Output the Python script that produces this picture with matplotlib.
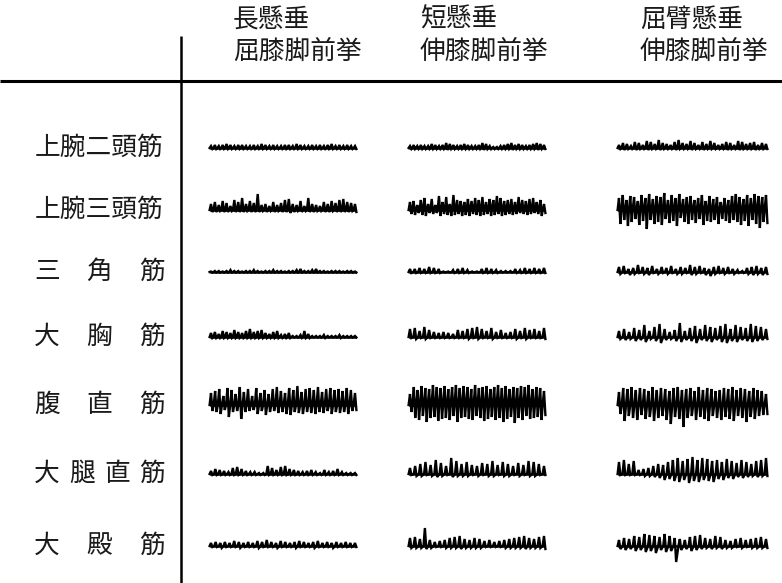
import numpy as np
import matplotlib.pyplot as plt

plt.rcParams['font.family'] = ['Noto Sans CJK JP', 'DejaVu Sans']

W, H = 782, 583

cond_top = ["長懸垂", "短懸垂", "屈臂懸垂"]
cond_bottom = ["屈膝脚前挙", "伸膝脚前挙", "伸膝脚前挙"]
muscles = ["上腕二頭筋", "上腕三頭筋", "三角筋", "大胸筋", "腹直筋", "大腿直筋", "大殿筋"]

# spike heights above (up) and below (dn) the baseline, one list per condition
biceps_up = [
    [2, 3, 2, 3, 4, 3, 2, 3, 3, 2, 2, 3, 2, 4, 3, 2, 3, 2, 2, 3, 3, 2, 4, 3, 2, 2, 3, 2, 3, 2, 3, 4, 2, 3, 2, 3, 2, 2],
    [2, 3, 2, 3, 2, 2, 4, 3, 2, 3, 5, 4, 3, 2, 3, 4, 3, 2, 2, 3, 5, 4, 2, 1, 1, 2, 3, 4, 5, 3, 4, 3, 2, 3, 4, 5, 4, 3],
    [3, 5, 4, 2, 6, 5, 3, 7, 6, 4, 8, 5, 4, 3, 6, 8, 5, 4, 7, 5, 3, 6, 4, 7, 5, 3, 4, 6, 5, 3, 7, 6, 4, 5, 6, 3, 5, 4],
]
biceps_dn = [
    [1, 1, 1, 1, 1, 1, 1, 1, 1, 1, 1, 1, 1, 1, 1, 1, 1, 1, 1, 1, 1, 1, 1, 1, 1, 1, 1, 1, 1, 1, 1, 1, 1, 1, 1, 1, 1, 1],
    [1, 1, 1, 1, 1, 1, 1, 1, 1, 1, 2, 1, 1, 1, 1, 1, 1, 1, 1, 1, 2, 1, 1, 1, 1, 1, 1, 1, 2, 1, 1, 1, 1, 1, 1, 2, 1, 1],
    [1, 2, 1, 1, 2, 1, 1, 2, 1, 1, 2, 1, 1, 1, 2, 1, 1, 1, 2, 1, 1, 2, 1, 1, 1, 1, 1, 2, 1, 1, 2, 1, 1, 1, 2, 1, 1, 1],
]
triceps_up = [
    [6, 8, 5, 9, 7, 4, 10, 8, 12, 6, 9, 7, 16, 5, 6, 4, 8, 5, 7, 10, 11, 6, 5, 9, 4, 12, 6, 5, 4, 8, 6, 9, 7, 10, 11, 8, 7, 6],
    [8, 9, 5, 10, 12, 6, 11, 5, 14, 8, 13, 6, 15, 10, 9, 8, 11, 9, 12, 10, 13, 8, 11, 10, 14, 12, 9, 10, 11, 8, 13, 10, 9, 11, 12, 8, 10, 6],
    [12, 15, 10, 14, 13, 9, 15, 12, 16, 11, 14, 13, 17, 10, 15, 12, 16, 11, 13, 14, 10, 12, 15, 9, 14, 11, 13, 8, 12, 10, 14, 16, 13, 11, 15, 12, 16, 14, 13, 15],
]
triceps_dn = [
    [2, 2, 1, 2, 2, 1, 2, 2, 2, 1, 2, 2, 2, 1, 2, 1, 2, 1, 2, 2, 3, 2, 1, 2, 1, 2, 2, 1, 1, 2, 2, 1, 2, 2, 2, 2, 1, 2],
    [4, 5, 3, 5, 6, 3, 4, 3, 6, 4, 5, 6, 5, 4, 6, 5, 6, 4, 5, 6, 5, 4, 6, 5, 4, 6, 5, 4, 5, 4, 3, 4, 5, 4, 3, 4, 6, 3],
    [14, 10, 16, 12, 9, 15, 11, 19, 10, 14, 12, 15, 9, 13, 11, 16, 8, 12, 14, 10, 13, 9, 15, 11, 12, 10, 14, 9, 11, 13, 10, 12, 15, 11, 16, 10, 14, 18, 12, 13],
]
deltoid_up = [
    [0.5, 1, 1, 0.5, 1, 2, 1, 1, 0.5, 1, 1, 2, 1, 0.5, 1, 1, 2, 1, 1, 0.5, 1, 1, 2, 3, 1, 1, 2, 3, 1, 1, 0.5, 1, 1, 1, 0.5, 1, 1, 0.5],
    [3, 3, 4, 3, 5, 4, 3, 0.5, 0.5, 2, 3, 4, 2, 0.5, 0.5, 3, 4, 3, 2, 1, 1, 1, 3, 2, 4, 3, 4, 3, 4],
    [5, 6, 3, 4, 7, 5, 4, 6, 3, 5, 4, 6, 3, 5, 4, 7, 5, 6, 4, 3, 5, 6, 4, 5, 3, 2, 1, 4, 5, 6, 4, 5],
]
deltoid_dn = [
    [0.5, 0.5, 0.5, 0.5, 0.5, 0.5, 0.5, 0.5, 0.5, 0.5, 0.5, 0.5, 0.5, 0.5, 0.5, 0.5, 0.5, 0.5, 0.5, 0.5, 0.5, 0.5, 0.5, 0.5, 0.5, 0.5, 0.5, 0.5, 0.5, 0.5, 0.5, 0.5, 0.5, 0.5, 0.5, 0.5, 0.5, 0.5],
    [1, 1, 1, 1, 1, 1, 1, 0.5, 0.5, 1, 1, 1, 1, 0.5, 0.5, 1, 1, 1, 1, 0.5, 0.5, 0.5, 1, 1, 1, 1, 1, 1, 1],
    [2, 1, 3, 2, 1, 2, 3, 1, 2, 1, 2, 1, 2, 2, 1, 3, 2, 1, 3, 4, 2, 1, 2, 1, 2, 1, 1, 2, 3, 2, 3, 2],
]
pector_up = [
    [4, 5, 3, 6, 5, 4, 7, 5, 4, 6, 8, 5, 6, 7, 4, 3, 5, 6, 2, 3, 4, 1, 1, 2, 6, 3, 1, 1, 1, 2, 1, 1, 1, 2, 1, 1, 1, 1],
    [8, 9, 6, 10, 7, 5, 4, 5, 4, 3, 7, 6, 8, 9, 10, 8, 6, 9, 5, 7, 4, 5, 8, 6, 9, 7, 8, 6, 9],
    [6, 8, 5, 9, 7, 12, 6, 10, 13, 8, 5, 7, 14, 6, 9, 11, 8, 12, 10, 9, 11, 13, 8, 12, 10, 9, 13, 11, 10, 8],
]
pector_dn = [
    [1, 1, 1, 1, 1, 1, 1, 1, 1, 1, 1, 1, 1, 1, 1, 1, 1, 1, 1, 1, 1, 0.5, 0.5, 1, 1, 1, 0.5, 0.5, 0.5, 1, 0.5, 0.5, 0.5, 1, 0.5, 0.5, 0.5, 0.5],
    [1, 2, 1, 2, 1, 1, 1, 1, 1, 1, 1, 1, 2, 1, 2, 1, 1, 2, 1, 1, 1, 1, 2, 1, 2, 1, 1, 1, 2],
    [2, 3, 2, 4, 3, 5, 2, 4, 6, 3, 2, 4, 5, 3, 4, 6, 3, 4, 5, 3, 5, 6, 4, 5, 3, 4, 5, 4, 3, 2],
]
rectus_up = [
    [12, 14, 16, 9, 17, 15, 11, 18, 13, 16, 9, 17, 12, 15, 11, 16, 18, 14, 12, 17, 15, 19, 13, 16, 17, 15, 18, 13, 16, 17, 15, 16, 14, 17, 15, 12],
    [11, 18, 15, 19, 17, 16, 20, 18, 17, 19, 16, 18, 20, 17, 19, 18, 16, 20, 17, 18, 19, 16, 18, 20, 17, 19, 16, 18, 17, 19, 18, 20, 16, 18, 17, 14],
    [13, 17, 16, 18, 15, 17, 16, 14, 18, 15, 17, 16, 14, 17, 18, 15, 16, 17, 14, 18, 15, 17, 16, 14, 15, 17, 16, 18, 15, 17, 16, 14, 17, 15, 14, 11],
]
rectus_dn = [
    [6, 7, 9, 5, 12, 7, 6, 14, 7, 6, 5, 9, 6, 10, 7, 6, 8, 7, 9, 10, 7, 8, 9, 7, 8, 9, 7, 8, 6, 9, 7, 8, 7, 9, 6, 5],
    [7, 13, 15, 11, 17, 13, 12, 16, 14, 13, 15, 11, 17, 13, 12, 14, 15, 11, 13, 16, 14, 12, 15, 13, 17, 14, 12, 18, 13, 15, 11, 14, 13, 12, 15, 10],
    [9, 16, 11, 13, 15, 10, 14, 12, 16, 13, 11, 15, 19, 12, 14, 22, 13, 11, 15, 12, 14, 16, 11, 13, 15, 12, 14, 16, 11, 13, 17, 12, 14, 11, 10, 9],
]
femoris_up = [
    [3, 5, 4, 3, 2, 6, 7, 5, 3, 2, 2, 1, 1, 8, 6, 4, 7, 8, 5, 4, 3, 2, 3, 4, 2, 1, 4, 2, 3, 5, 2, 1, 1, 1],
    [6, 8, 10, 12, 9, 14, 11, 8, 16, 13, 10, 12, 9, 8, 11, 10, 13, 9, 12, 10, 8, 11, 9, 13, 12, 10, 8],
    [12, 14, 10, 13, 4, 5, 6, 8, 10, 9, 12, 14, 16, 13, 15, 17, 14, 16, 15, 13, 14, 12, 15, 13, 11, 14, 12, 10, 13, 14, 16],
]
femoris_dn = [
    [1, 1, 1, 1, 1, 1, 1, 1, 1, 1, 1, 1, 1, 1, 1, 1, 1, 1, 1, 1, 1, 1, 1, 1, 1, 1, 1, 1, 1, 1, 1, 1, 1, 1],
    [1, 2, 2, 1, 2, 3, 2, 1, 3, 2, 2, 2, 1, 2, 1, 2, 2, 1, 2, 2, 1, 2, 1, 2, 2, 1, 1],
    [1, 1, 1, 1, 1, 2, 2, 3, 4, 6, 5, 7, 8, 6, 9, 7, 8, 6, 7, 8, 5, 6, 4, 5, 3, 4, 3, 2, 3, 2, 2],
]
gluteus_up = [
    [3, 4, 3, 4, 3, 5, 4, 3, 4, 3, 5, 4, 6, 4, 3, 5, 4, 3, 4, 5, 4, 3, 4, 5, 3, 4, 3, 4, 3, 4, 3, 3],
    [8, 9, 7, 18, 6, 4, 5, 6, 8, 9, 10, 7, 6, 8, 7, 5, 6, 4, 5, 6, 7, 8, 9, 10, 8, 7, 9, 10],
    [6, 8, 7, 10, 9, 12, 11, 10, 9, 12, 10, 8, 7, 6, 9, 10, 11, 8, 7, 10, 9, 6, 5, 7, 8, 6, 7, 8, 9, 7],
]
gluteus_dn = [
    [1, 1, 2, 1, 1, 1, 2, 1, 1, 1, 2, 1, 1, 1, 2, 1, 1, 1, 2, 1, 1, 1, 2, 1, 1, 1, 2, 1, 1, 1, 1, 1],
    [2, 2, 2, 3, 2, 1, 1, 2, 2, 2, 3, 2, 2, 2, 2, 1, 1, 1, 1, 2, 2, 2, 2, 3, 2, 2, 2, 3],
    [3, 4, 3, 5, 4, 6, 5, 7, 4, 6, 5, 16, 4, 3, 5, 4, 3, 2, 3, 2, 3, 2, 2, 1, 2, 1, 2, 2, 2, 2],
]

traces_up = [biceps_up, triceps_up, deltoid_up, pector_up, rectus_up, femoris_up, gluteus_up]
traces_dn = [biceps_dn, triceps_dn, deltoid_dn, pector_dn, rectus_dn, femoris_dn, gluteus_dn]

# layout (pixel coordinates)
col_span = [(211, 355), (410, 544), (619, 766)]
col_text_x = [233, 420, 640]
row_y = [148, 210, 272, 337, 405, 474, 546]
label_x0, label_x1 = 47, 152

fig = plt.figure(figsize=(W / 100, H / 100), dpi=100)
ax = fig.add_axes([0, 0, 1, 1])
ax.set_xlim(0, W)
ax.set_ylim(H, 0)
ax.axis("off")

# table rules
ax.plot([0, W], [81, 81], color="black", lw=2.2, solid_capstyle="butt")
ax.plot([181, 181], [36, H], color="black", lw=1.8, solid_capstyle="butt")

# column headers
txt = dict(fontsize=18.5, color="#1a1a1a")
for j in range(3):
    ax.text(col_text_x[j], 20, cond_top[j], ha="left", va="center", **txt)
    ax.text(col_text_x[j], 52, cond_bottom[j], ha="left", va="center", **txt)

# row labels
for i, name in enumerate(muscles):
    n = len(name)
    if n == 5:
        ax.text(35, row_y[i], name, ha="left", va="center", **txt)
    else:
        for k, ch in enumerate(name):
            cx = label_x0 + (label_x1 - label_x0) * k / (n - 1)
            ax.text(cx, row_y[i], ch, ha="center", va="center", **txt)

# EMG traces: narrow spikes up/down from the baseline
for i in range(len(muscles)):
    for j in range(3):
        up = np.asarray(traces_up[i][j], dtype=float)
        dn = np.asarray(traces_dn[i][j], dtype=float)
        x0, x1 = col_span[j]
        xc = np.linspace(x0, x1, len(up))
        step = (x1 - x0) / (len(up) - 1)
        d = min(1.4, step * 0.4)
        xs = np.column_stack([xc - d, xc, xc + d]).ravel()
        ys = np.column_stack([np.full_like(up, row_y[i]), row_y[i] - up, row_y[i] + dn]).ravel()
        ax.plot(xs, ys, color="black", lw=1.7, solid_joinstyle="miter")
        ax.plot([x0, x1], [row_y[i], row_y[i]], color="black", lw=1.8)

fig.savefig("out.png", dpi=100)
